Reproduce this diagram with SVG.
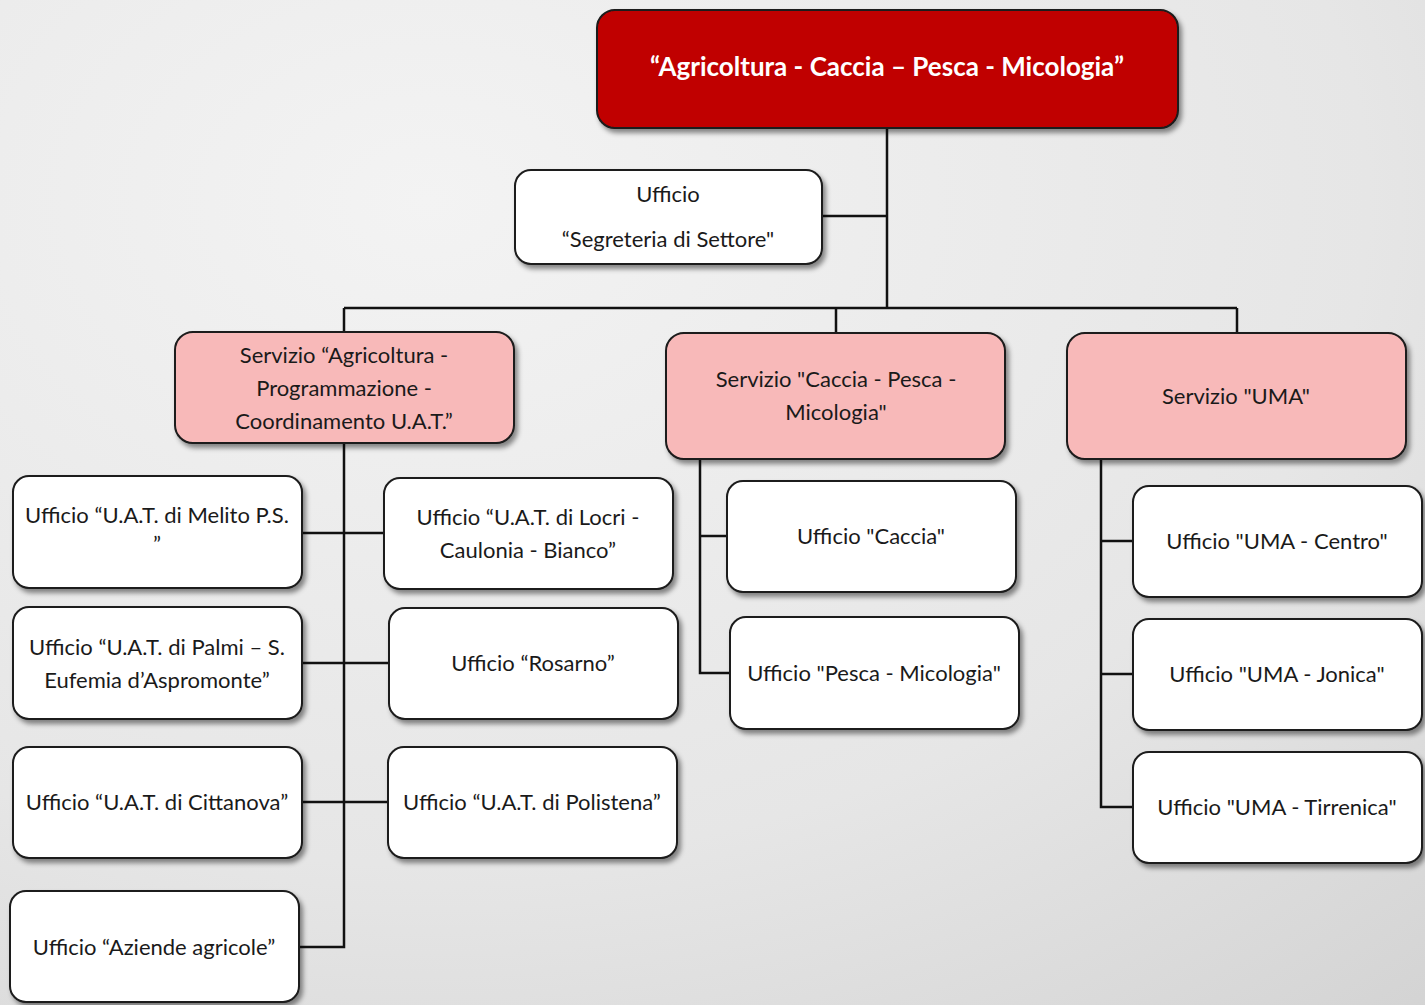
<svg xmlns="http://www.w3.org/2000/svg" width="1425" height="1005" viewBox="0 0 1425 1005">
<defs>
<radialGradient id="bg" cx="0.3" cy="0.2" r="1.1">
<stop offset="0" stop-color="#f3f3f3"/>
<stop offset="0.6" stop-color="#e6e6e6"/>
<stop offset="1" stop-color="#d2d2d2"/>
</radialGradient>
<filter id="sh" x="-10%" y="-10%" width="125%" height="130%">
<feDropShadow dx="3" dy="4" stdDeviation="2.5" flood-color="#000" flood-opacity="0.45"/>
</filter>
<style>
.box{stroke:#1a1a1a;stroke-width:2;filter:url(#sh)}
.top{fill:#c00000}
.svc{fill:#f8b9b9}
.uff{fill:#ffffff}
.t{font-family:Lato,"Open Sans",sans-serif;font-size:22px;fill:#1a1a1a;text-anchor:middle;dominant-baseline:central}
.tt{font-family:Lato,"Open Sans",sans-serif;font-size:26px;font-weight:bold;fill:#ffffff;text-anchor:middle;dominant-baseline:central}
.c{stroke:#111;stroke-width:2.5;fill:none}
</style>
</defs>
<rect width="1425" height="1005" fill="url(#bg)"/>
<g id="connectors">
<path class="c" d="M887 128 V308 M822 216 H887 M344 308 H1237 M344 308 V332 M836 308 V333 M1237 308 V333"/>
<path class="c" d="M344 443 V947 H299 M302 533 H384 M302 663 H389 M302 802 H388"/>
<path class="c" d="M700 459 V673 H730 M700 536 H727"/>
<path class="c" d="M1101 459 V807 H1133 M1101 541 H1133 M1101 674 H1133"/>
</g>
<g id="n-root"><rect class="box top" x="597" y="10" width="581" height="118" rx="18"/><text class="tt" x="887" y="66">“Agricoltura - Caccia – Pesca - Micologia”</text></g>
<g id="n-segreteria"><rect class="box uff" x="515" y="170" width="307" height="94" rx="16"/><text class="t" x="668" y="193">Ufficio</text><text class="t" x="668" y="238">“Segreteria di Settore"</text></g>
<g id="n-serv-agri"><rect class="box svc" x="175" y="332" width="339" height="111" rx="18"/><text class="t" x="344" y="354">Servizio “Agricoltura -</text><text class="t" x="344" y="387">Programmazione -</text><text class="t" x="344" y="420">Coordinamento U.A.T.”</text></g>
<g id="n-serv-caccia"><rect class="box svc" x="666" y="333" width="339" height="126" rx="18"/><text class="t" x="836" y="378">Servizio "Caccia - Pesca -</text><text class="t" x="836" y="411">Micologia"</text></g>
<g id="n-serv-uma"><rect class="box svc" x="1067" y="333" width="339" height="126" rx="18"/><text class="t" x="1236" y="395">Servizio "UMA"</text></g>
<g id="n-melito"><rect class="box uff" x="13" y="476" width="289" height="112" rx="16"/><text class="t" x="157" y="514">Ufficio “U.A.T. di Melito P.S.</text><text class="t" x="157" y="543">”</text></g>
<g id="n-locri"><rect class="box uff" x="384" y="478" width="289" height="111" rx="16"/><text class="t" x="528" y="516">Ufficio “U.A.T. di Locri -</text><text class="t" x="528" y="549">Caulonia - Bianco”</text></g>
<g id="n-palmi"><rect class="box uff" x="13" y="607" width="289" height="112" rx="16"/><text class="t" x="157" y="646">Ufficio “U.A.T. di Palmi – S.</text><text class="t" x="157" y="679">Eufemia d’Aspromonte”</text></g>
<g id="n-rosarno"><rect class="box uff" x="389" y="608" width="289" height="111" rx="16"/><text class="t" x="533" y="662">Ufficio “Rosarno”</text></g>
<g id="n-cittanova"><rect class="box uff" x="13" y="747" width="289" height="111" rx="16"/><text class="t" x="157" y="801">Ufficio “U.A.T. di Cittanova”</text></g>
<g id="n-polistena"><rect class="box uff" x="388" y="747" width="289" height="111" rx="16"/><text class="t" x="532" y="801">Ufficio “U.A.T. di Polistena”</text></g>
<g id="n-aziende"><rect class="box uff" x="10" y="891" width="289" height="111" rx="16"/><text class="t" x="154" y="946">Ufficio “Aziende agricole”</text></g>
<g id="n-caccia"><rect class="box uff" x="727" y="481" width="289" height="111" rx="16"/><text class="t" x="871" y="535">Ufficio "Caccia"</text></g>
<g id="n-pesca"><rect class="box uff" x="730" y="617" width="289" height="112" rx="16"/><text class="t" x="874" y="672">Ufficio "Pesca - Micologia"</text></g>
<g id="n-centro"><rect class="box uff" x="1133" y="486" width="289" height="111" rx="16"/><text class="t" x="1277" y="540">Ufficio "UMA - Centro"</text></g>
<g id="n-jonica"><rect class="box uff" x="1133" y="619" width="289" height="111" rx="16"/><text class="t" x="1277" y="673">Ufficio "UMA - Jonica"</text></g>
<g id="n-tirrenica"><rect class="box uff" x="1133" y="752" width="289" height="111" rx="16"/><text class="t" x="1277" y="806">Ufficio "UMA - Tirrenica"</text></g>
</svg>
